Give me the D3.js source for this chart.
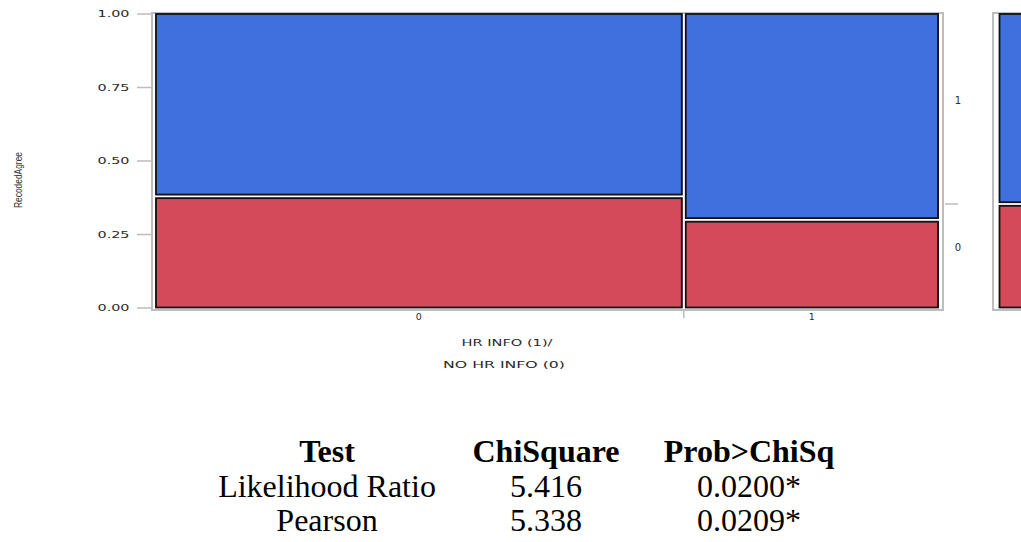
<!DOCTYPE html>
<html><head><meta charset="utf-8">
<script src="https://cdn.jsdelivr.net/npm/d3@7"></script>
<style>body{margin:0;background:#fff;}svg{display:block;}</style>
</head><body>
<svg id="chart" width="1021" height="542"></svg>
<script>
// Data
const xCategories = ["0", "1"];            // HR INFO (1) / NO HR INFO (0)
const xShares = [0.674, 0.326];            // column widths (share of respondents)
const yCategories = ["0", "1"];            // RecodedAgree levels (bottom to top)
const shareLevel0 = [0.378, 0.298];        // proportion RecodedAgree=0 within each column
const marginalLevel0 = 0.352;              // overall proportion RecodedAgree=0
const yTicks = [0, 0.25, 0.5, 0.75, 1];
const tableHeader = ["Test", "ChiSquare", "Prob>ChiSq"];
const tableTests = ["Likelihood Ratio", "Pearson"];
const tableChiSquare = ["5.416", "5.338"];
const tableProb = ["0.0200*", "0.0209*"];

const svg = d3.select("#chart");
const BLUE = "#4070dd", RED = "#d44a5a", GRAY = "#bdbdbd";
const tickFont = "'DejaVu Sans', sans-serif";
const TXT = "#2a2a2a";

const x = d3.scaleLinear().domain([0, 1]).range([154, 940]);
const y = d3.scaleLinear().domain([0, 1]).range([307.5, 13.5]);

// frame
svg.append("rect").attr("x", 152).attr("y", 13).attr("width", 943 - 152).attr("height", 310 - 13)
  .attr("fill", "none").attr("stroke", GRAY).attr("stroke-width", 2);

function cellRect(x0, x1, top, bot, color) {
  svg.append("rect").attr("x", x0 - 0.5).attr("y", top - 0.5).attr("width", x1 - x0 + 1.5).attr("height", bot - top + 1)
    .attr("fill", color);
  svg.append("rect").attr("x", x0).attr("y", top).attr("width", x1 - x0).attr("height", bot - top)
    .attr("fill", color).attr("stroke", "#111").attr("stroke-width", 1.8);
}

// cells
const cum = d3.cumsum([0, ...xShares]);
xCategories.forEach((c, i) => {
  const x0 = x(cum[i]) + 2, x1 = x(cum[i + 1]) - 2;
  const p0 = shareLevel0[i];
  const cells = [
    {lo: 0, hi: p0, color: RED},
    {lo: p0, hi: 1, color: BLUE}
  ];
  cells.forEach(cell => {
    const top = y(cell.hi) + (cell.hi < 1 ? 1.8 : 0.5);
    const bot = y(cell.lo) - (cell.lo > 0 ? 1.8 : 0);
    cellRect(x0, x1, top, bot, cell.color);
  });
  // x tick label
  svg.append("text").attr("x", (x(cum[i]) + x(cum[i + 1])) / 2).attr("y", 319.5)
    .attr("text-anchor", "middle").attr("font-family", tickFont).attr("font-size", 9.5)
    .attr("fill", TXT).text(c);
});

// x divider tick
svg.append("line").attr("x1", x(cum[1])).attr("x2", x(cum[1])).attr("y1", 310).attr("y2", 318)
  .attr("stroke", GRAY).attr("stroke-width", 1.5);

// y axis
const yAxisG = svg.append("g").attr("transform", "translate(151,0)");
const yAxis = d3.axisLeft(y).tickValues(yTicks).tickFormat(d3.format(".2f")).tickSize(14).tickSizeOuter(0);
yAxisG.call(yAxis);
yAxisG.select(".domain").remove();
yAxisG.selectAll(".tick line").attr("stroke", GRAY).attr("stroke-width", 1.5);
yAxisG.selectAll(".tick text").attr("font-family", tickFont).attr("font-size", 9.5).attr("fill", TXT)
  .attr("x", -21.5).attr("textLength", 32).attr("lengthAdjust", "spacingAndGlyphs");

// y title
svg.append("text").attr("transform", "translate(22,180) rotate(-90)").attr("text-anchor", "middle")
  .attr("font-family", "'Liberation Sans', sans-serif").attr("font-size", 11).attr("fill", "#333")
  .attr("textLength", 56).attr("lengthAdjust", "spacingAndGlyphs").text("RecodedAgree");

// x title
svg.append("text").attr("x", 507).attr("y", 346).attr("text-anchor", "middle")
  .attr("font-family", tickFont).attr("font-size", 9.5).attr("fill", TXT)
  .attr("textLength", 91).attr("lengthAdjust", "spacingAndGlyphs").text("HR INFO (1)/");
svg.append("text").attr("x", 504).attr("y", 367.5).attr("text-anchor", "middle")
  .attr("font-family", tickFont).attr("font-size", 9.5).attr("fill", TXT)
  .attr("textLength", 122).attr("lengthAdjust", "spacingAndGlyphs").text("NO HR INFO (0)");

// right axis
svg.append("line").attr("x1", 945).attr("x2", 958).attr("y1", y(marginalLevel0)).attr("y2", y(marginalLevel0))
  .attr("stroke", GRAY).attr("stroke-width", 1.5);
const rightLabels = [
  {t: yCategories[1], mid: (marginalLevel0 + 1) / 2},
  {t: yCategories[0], mid: marginalLevel0 / 2}
];
rightLabels.forEach(l => {
  svg.append("text").attr("x", 958).attr("y", y(l.mid) - 4.5).attr("text-anchor", "middle")
    .attr("font-family", tickFont).attr("font-size", 10).attr("fill", TXT).text(l.t);
});

// marginal panel
svg.append("rect").attr("x", 993).attr("y", 13).attr("width", 60).attr("height", 310 - 13)
  .attr("fill", "none").attr("stroke", GRAY).attr("stroke-width", 2);
[{lo: 0, hi: marginalLevel0, color: RED}, {lo: marginalLevel0, hi: 1, color: BLUE}].forEach(cell => {
  const top = y(cell.hi) + (cell.hi < 1 ? 1.8 : 0.5);
  const bot = y(cell.lo) - (cell.lo > 0 ? 1.8 : 0);
  cellRect(999.5, 1040, top, bot, cell.color);
});

// table
const colX = [327, 546, 749];
const rowY = [462, 497, 531];
const serif = "'Liberation Serif', 'Times New Roman', serif";
tableHeader.forEach((h, j) => {
  svg.append("text").attr("x", colX[j]).attr("y", rowY[0]).attr("text-anchor", "middle")
    .attr("font-family", serif).attr("font-weight", "bold").attr("font-size", 32).attr("fill", "#000").text(h);
});
tableTests.forEach((t, i) => {
  [t, tableChiSquare[i], tableProb[i]].forEach((v, j) => {
    svg.append("text").attr("x", colX[j]).attr("y", rowY[i + 1]).attr("text-anchor", "middle")
      .attr("font-family", serif).attr("font-size", 32).attr("fill", "#000").text(v);
  });
});
</script>
</body></html>
